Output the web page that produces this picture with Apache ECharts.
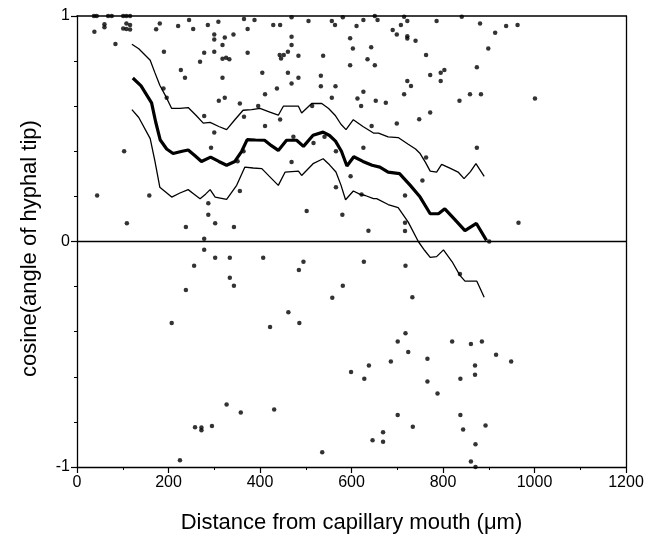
<!DOCTYPE html>
<html>
<head>
<meta charset="utf-8">
<script src="https://cdn.jsdelivr.net/npm/echarts@6/dist/echarts.min.js"></script>
<style>
html,body{margin:0;padding:0;background:#fff;}
#chart{width:650px;height:539px;}
</style>
</head>
<body>
<div id="chart"></div>
<script>
// x axis ticks and labels
var xTicks = [0, 200, 400, 600, 800, 1000, 1200];
var yTicks = [-1, 0, 1];

// mean cosine (thick line)
var meanLine = [[122,0.725],[140,0.69],[163,0.615],[172,0.53],[182,0.45],[196,0.41],[210,0.39],[230,0.40],[243,0.406],[258,0.38],[272,0.355],[292,0.374],[310,0.355],[327,0.338],[345,0.355],[360,0.40],[372,0.452],[390,0.45],[410,0.449],[425,0.425],[440,0.404],[458,0.449],[480,0.449],[495,0.422],[516,0.471],[538,0.485],[552,0.47],[565,0.445],[578,0.40],[590,0.335],[605,0.376],[625,0.355],[645,0.338],[662,0.33],[680,0.308],[705,0.301],[728,0.25],[750,0.197],[772,0.123],[790,0.123],[804,0.145],[826,0.097],[848,0.048],[873,0.08],[895,0.005]];

// upper band (thin line)
var upperLine = [[120,0.875],[135,0.855],[160,0.804],[170,0.75],[181,0.693],[195,0.64],[207,0.59],[225,0.59],[243,0.594],[260,0.56],[276,0.525],[291,0.528],[310,0.51],[327,0.496],[345,0.54],[363,0.582],[382,0.585],[400,0.59],[420,0.575],[440,0.56],[451,0.60],[470,0.60],[484,0.60],[491,0.57],[513,0.612],[535,0.612],[550,0.59],[564,0.56],[577,0.52],[588,0.496],[604,0.54],[625,0.51],[648,0.481],[659,0.481],[680,0.464],[702,0.461],[724,0.431],[740,0.41],[750,0.39],[762,0.35],[772,0.312],[786,0.308],[797,0.342],[815,0.325],[833,0.308],[846,0.279],[860,0.31],[872,0.345],[890,0.289]];

// lower band (thin line)
var lowerLine = [[120,0.585],[135,0.55],[160,0.456],[170,0.36],[181,0.241],[207,0.197],[225,0.215],[243,0.23],[256,0.21],[269,0.19],[281,0.21],[291,0.23],[302,0.197],[327,0.187],[349,0.249],[367,0.33],[385,0.326],[404,0.323],[420,0.29],[440,0.249],[455,0.308],[484,0.312],[491,0.293],[516,0.345],[538,0.367],[552,0.34],[566,0.308],[577,0.25],[587,0.185],[604,0.224],[619,0.209],[630,0.204],[648,0.19],[655,0.19],[680,0.164],[702,0.15],[724,0.086],[746,0.0],[760,-0.04],[772,-0.07],[786,-0.067],[801,-0.037],[820,-0.09],[837,-0.15],[848,-0.176],[874,-0.176],[890,-0.247]];

// individual hyphal tips
var tipPoints = [
[37,1],[43,1],[68,1],[76,1],[101,1],[108,1],[116,1],
[38,0.93],[60,0.963],[60,0.95],[101,0.945],[108,0.967],[108,0.942],[116,0.96],[116,0.94],[84,0.876],
[173,0.941],[181,0.967],[190,0.841],[221,0.956],[245,0.982],[254,0.942],[286,0.96],[309,0.975],
[300,0.918],[300,0.896],[323,0.905],[318,0.871],[300,0.841],[278,0.837],[269,0.797],
[318,0.81],[326,0.815],[333,0.808],
[227,0.76],[236,0.726],[318,0.726],[189,0.679],[196,0.637],[323,0.637],[310,0.624],[278,0.556],
[365,0.987],[388,0.982],[469,0.994],[506,0.978],[557,0.978],[564,0.96],[581,0.994],[626,0.982],[651,1.0],[657,0.982],
[342,0.918],[373,0.942],[429,0.96],[444,0.96],[469,0.908],[469,0.871],[597,0.901],[603,0.856],[611,0.956],[643,0.861],
[373,0.837],[443,0.827],[446,0.812],[452,0.827],[461,0.841],[484,0.824],[538,0.824],[597,0.782],[635,0.808],[651,0.782],
[405,0.748],[461,0.748],[484,0.726],[469,0.701],[533,0.735],[533,0.689],[565,0.689],[626,0.664],[437,0.679],[411,0.653],
[356,0.612],[396,0.601],[365,0.553],[557,0.637],[613,0.634],[621,0.601],[653,0.624],[514,0.601],[444,0.541],[411,0.512],[644,0.512],
[715,0.997],[722,0.978],[708,0.96],[690,0.938],[699,0.918],[722,0.91],[722,0.9],[740,0.89],[786,0.978],[841,0.997],[881,0.967],[938,0.956],[963,0.96],[914,0.926],[899,0.856],[763,0.827],[874,0.773],[772,0.738],[795,0.748],[803,0.76],[795,0.712],[722,0.712],[730,0.69],[715,0.653],[675,0.615],[836,0.624],[859,0.653],[883,0.653],[1001,0.634],[772,0.572],[748,0.542],[699,0.523],
[103,0.40],[44,0.204],[158,0.204],[109,0.081],[238,0.064],[287,0.17],[287,0.119],[302,0.081],[278,0.012],[278,-0.037],[300,0.483],[293,0.416],
[364,0.40],[351,0.356],[473,0.464],[469,0.352],[517,0.437],[541,0.464],[566,0.40],[626,0.416],[356,0.224],[566,0.241],[598,0.289],[502,0.135],[580,0.119],[343,0.064],[637,0.048],[622,0.208],
[874,0.416],[763,0.372],[755,0.271],[717,0.204],[717,0.083],[717,0.047],[965,0.083],[901,0.0],
[302,-0.072],[334,-0.072],[407,-0.072],
[256,-0.108],[334,-0.161],[343,-0.196],[238,-0.215],[207,-0.361],[485,-0.126],[495,-0.09],[581,-0.196],[558,-0.249],[462,-0.314],[486,-0.361],[422,-0.379],[599,-0.579],[327,-0.723],[431,-0.745],[358,-0.758],[258,-0.824],[272,-0.825],[272,-0.837],[295,-0.818],[225,-0.97],[536,-0.935],
[627,-0.09],[718,-0.107],[733,-0.247],[837,-0.144],[718,-0.407],[701,-0.443],[724,-0.49],[686,-0.532],[638,-0.55],[628,-0.609],[766,-0.52],[766,-0.621],[788,-0.674],[820,-0.443],[861,-0.455],[885,-0.443],[916,-0.502],[949,-0.532],[870,-0.55],[870,-0.591],[838,-0.609],[701,-0.769],[734,-0.822],[669,-0.846],[669,-0.888],[646,-0.881],[838,-0.769],[844,-0.834],[893,-0.816],[871,-0.899],[861,-0.976],[871,-1.0]
];

var FONT = '"Liberation Sans", Arial, Helvetica, sans-serif';
var chart = echarts.init(document.getElementById('chart'), null, {renderer: 'canvas'});
chart.setOption({
  animation: false,
  backgroundColor: '#ffffff',
  grid: {left: 77, right: 24, top: 16, bottom: 72, containLabel: false},
  xAxis: [{
    type: 'value', min: xTicks[0], max: xTicks[xTicks.length-1], interval: 200,
    name: 'Distance from capillary mouth (\u03bcm)', nameLocation: 'middle', nameGap: 45,
    nameTextStyle: {fontFamily: FONT, fontSize: 22, color: '#000'},
    axisLine: {onZero: false, lineStyle: {color: '#000', width: 1.3}},
    axisTick: {show: true, length: 6, lineStyle: {color: '#000', width: 1.2}},
    minorTick: {show: true, splitNumber: 2, length: 3, lineStyle: {color: '#000', width: 1}},
    axisLabel: {fontFamily: FONT, fontSize: 16, color: '#000', margin: 8,
      formatter: function (v) { return String(v); }},
    splitLine: {show: false}
  }, {
    type: 'value', position: 'top', min: 0, max: 1200,
    axisLine: {show: true, onZero: false, lineStyle: {color: '#000', width: 1.5}},
    axisTick: {show: false}, axisLabel: {show: false}, splitLine: {show: false}
  }],
  yAxis: [{
    type: 'value', min: yTicks[0], max: yTicks[yTicks.length-1], interval: 1,
    name: 'cosine(angle of hyphal tip)', nameLocation: 'middle', nameGap: 36, nameRotate: 90,
    nameTextStyle: {fontFamily: FONT, fontSize: 22, color: '#000', padding: [0, 14, 0, 0]},
    axisLine: {onZero: false, lineStyle: {color: '#000', width: 1.3}},
    axisTick: {show: true, length: 6, lineStyle: {color: '#000', width: 1.2}},
    minorTick: {show: true, splitNumber: 5, length: 3, lineStyle: {color: '#000', width: 1}},
    axisLabel: {fontFamily: FONT, fontSize: 16, color: '#000', margin: 7},
    splitLine: {show: false}
  }, {
    type: 'value', position: 'right', min: -1, max: 1,
    axisLine: {show: true, onZero: false, lineStyle: {color: '#000', width: 1.3}},
    axisTick: {show: false}, axisLabel: {show: false}, splitLine: {show: false}
  }],
  series: [{
    type: 'scatter', data: tipPoints, symbol: 'circle', symbolSize: 4.5,
    itemStyle: {color: '#000'}, silent: true, z: 3,
    markLine: {
      silent: true, symbol: ['none', 'none'], label: {show: false},
      lineStyle: {color: '#000', width: 1.3, type: 'solid'},
      data: [{yAxis: 0}]
    }
  }, {
    type: 'line', data: upperLine, showSymbol: false, symbol: 'none',
    lineStyle: {color: '#000', width: 1.3}, silent: true, z: 4
  }, {
    type: 'line', data: lowerLine, showSymbol: false, symbol: 'none',
    lineStyle: {color: '#000', width: 1.3}, silent: true, z: 4
  }, {
    type: 'line', data: meanLine, showSymbol: false, symbol: 'none',
    lineStyle: {color: '#000', width: 3.2}, silent: true, z: 5
  }]
});
</script>
</body>
</html>
